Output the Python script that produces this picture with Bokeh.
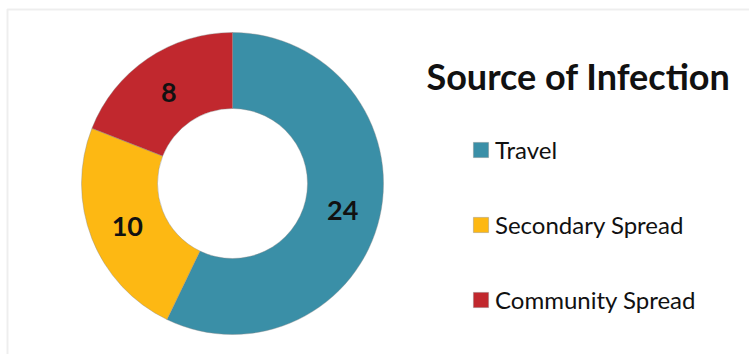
import numpy as np
from bokeh.plotting import figure
from bokeh.models import ColumnDataSource, Legend, LegendItem, Label, BoxAnnotation
from bokeh.core.properties import value
from bokeh.embed import file_html
from bokeh.resources import INLINE

categories = ["Travel", "Secondary Spread", "Community Spread"]
counts = [24, 10, 8]
colors = ["#3A8FA7", "#FDB813", "#C1282E"]
title_text = "Source of Infection"

W, H = 749, 354
cx, cy = 232, 171
r_in, r_out = 75, 151

vals = np.array(counts, dtype=float)
frac = vals / vals.sum()
ends = np.cumsum(frac) * 2 * np.pi
starts = ends - frac * 2 * np.pi
start_ang = np.pi / 2 - starts
end_ang = np.pi / 2 - ends
mid = (start_ang + end_ang) / 2
r_lab = (r_in + r_out) / 2

src = ColumnDataSource(dict(
    cat=categories, val=counts, color=colors,
    start=start_ang, end=end_ang,
    lx=cx + r_lab * np.cos(mid), ly=cy + r_lab * np.sin(mid) - 2,
    txt=[str(v) for v in counts],
))

p = figure(width=W, height=H, x_range=(0, W), y_range=(0, H), min_border=0,
           output_backend="svg", toolbar_location=None)
p.axis.visible = False
p.grid.visible = False
p.outline_line_color = None
p.background_fill_color = "white"

p.add_layout(BoxAnnotation(left=7, right=W + 20, bottom=-20, top=H - 9,
                           fill_color=None, line_color="#c8c8c8", line_width=2))

wedges = p.annular_wedge(x=cx, y=cy, inner_radius=r_in, outer_radius=r_out,
                         start_angle="start", end_angle="end", direction="clock",
                         fill_color="color", line_color="#8a8a8a", line_alpha=0.5,
                         line_width=0.8, source=src)

p.text(x="lx", y="ly", text="txt", source=src, text_align="center",
       text_baseline="middle", text_font=value("Lato"), text_font_style="bold",
       text_font_size="27px", text_color="#111111")

p.add_layout(Label(x=426, y=H - 75, text=title_text, text_font="Lato",
                   text_font_style="bold", text_font_size="36px",
                   text_color="#111111", text_baseline="alphabetic"))

items = [LegendItem(label=c, renderers=[wedges], index=i) for i, c in enumerate(categories)]
legend = Legend(items=items, location=(471, 40), orientation="vertical",
                glyph_width=19, glyph_height=19, label_standoff=5,
                label_text_font="Lato", label_text_font_size="24px",
                label_text_color="#111111", label_height=19,
                spacing=46, padding=0, margin=0,
                border_line_color=None, background_fill_alpha=0)
p.add_layout(legend, "center")

open("out.html", "w").write(file_html(p, INLINE))
